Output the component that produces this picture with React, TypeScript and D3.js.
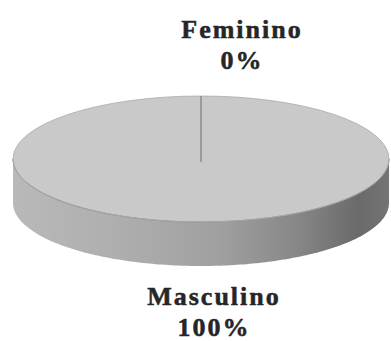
import React from "react";
import * as d3 from "d3";

// Gender distribution
const categories = ["Masculino", "Feminino"];
const values = [100, 0];
const percentLabels = ["100%", "0%"];

const W = 391;
const H = 341;

export default function App() {
  const cx = 201;
  const cy = 159;
  const rx = 188;
  const ry = 63;
  const depth = 44;

  const pie = d3
    .pie<number>()
    .sort(null)
    .value((d) => d);
  const arcs = pie(values);

  // project a pie angle (0 = top, clockwise) onto the tilted ellipse
  const pt = (a: number, dy = 0): [number, number] => [
    cx + rx * Math.sin(a),
    cy - ry * Math.cos(a) + dy,
  ];

  const slicePath = (a0: number, a1: number) => {
    const p = d3.path();
    p.moveTo(cx, cy);
    const steps = Math.max(2, Math.ceil(((a1 - a0) / (2 * Math.PI)) * 180));
    for (let i = 0; i <= steps; i++) {
      const [x, y] = pt(a0 + ((a1 - a0) * i) / steps);
      p.lineTo(x, y);
    }
    p.closePath();
    return p.toString();
  };

  // visible front wall: from the right edge (pi/2) round the bottom to the left edge (3pi/2)
  const wallPath = () => {
    const p = d3.path();
    const steps = 180;
    const a0 = Math.PI / 2;
    const a1 = (3 * Math.PI) / 2;
    const [sx, sy] = pt(a0);
    p.moveTo(sx, sy);
    for (let i = 1; i <= steps; i++) {
      const [x, y] = pt(a0 + ((a1 - a0) * i) / steps);
      p.lineTo(x, y);
    }
    for (let i = steps; i >= 0; i--) {
      const [x, y] = pt(a0 + ((a1 - a0) * i) / steps, depth);
      p.lineTo(x, y);
    }
    p.closePath();
    return p.toString();
  };

  const frontEdge = () => {
    const p = d3.path();
    const steps = 180;
    const a0 = Math.PI / 2;
    const a1 = (3 * Math.PI) / 2;
    const [sx, sy] = pt(a0);
    p.moveTo(sx, sy);
    for (let i = 1; i <= steps; i++) {
      const [x, y] = pt(a0 + ((a1 - a0) * i) / steps);
      p.lineTo(x, y);
    }
    return p.toString();
  };

  const font = "'Liberation Serif', 'Times New Roman', serif";
  const labelPos: Record<string, [number, number]> = {
    Feminino: [242, 38],
    Masculino: [214, 305],
  };
  const lineGap = 31;

  return (
    <svg width={W} height={H} style={{ position: "absolute", left: 0, top: 0, background: "#fff" }}>
      <defs>
        <linearGradient id="wall" x1={cx - rx} x2={cx + rx} y1={0} y2={0} gradientUnits="userSpaceOnUse">
          <stop offset="0" stopColor="#b9b9b9" />
          <stop offset="0.3" stopColor="#adadad" />
          <stop offset="0.55" stopColor="#a0a0a0" />
          <stop offset="0.75" stopColor="#888" />
          <stop offset="0.92" stopColor="#6a6a6a" />
          <stop offset="1" stopColor="#747474" />
        </linearGradient>
      </defs>
      <path d={wallPath()} fill="url(#wall)" />
      {arcs.map((a, i) =>
        a.endAngle - a.startAngle > 0 ? (
          <path key={categories[i]} d={slicePath(a.startAngle, a.endAngle)} fill="#c9c9c9" stroke="none" />
        ) : null
      )}
      <path d={frontEdge()} fill="none" stroke="#858585" strokeWidth={1} />
      <ellipse cx={cx} cy={cy} rx={rx} ry={ry} fill="none" stroke="#acacac" strokeWidth={0.8} />
      {arcs.map((a, i) => {
        const [x, y] = pt(a.startAngle);
        return (
          <line key={"r" + i} x1={cx} y1={cy + 3} x2={x} y2={y} stroke="#8c8c8c" strokeWidth={1} />
        );
      })}
      {categories.map((c, i) => {
        const [x, y] = labelPos[c];
        return (
          <text
            key={"t" + c}
            x={x}
            fontFamily={font}
            fontWeight="bold"
            fontSize={26}
            letterSpacing={2}
            fill="#262626"
            stroke="#262626"
            strokeWidth={0.5}
            textAnchor="middle"
          >
            <tspan x={x} y={y}>{c}</tspan>
            <tspan x={x} y={y + lineGap}>{percentLabels[i]}</tspan>
          </text>
        );
      })}
    </svg>
  );
}
